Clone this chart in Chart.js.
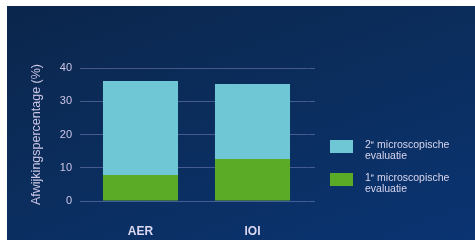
<!DOCTYPE html>
<html>
<head>
<meta charset="utf-8">
<script src="https://cdn.jsdelivr.net/npm/chart.js@4.4.1/dist/chart.umd.min.js"></script>
<style>
  html, body { margin: 0; padding: 0; background: #ffffff; }
  #bg {
    position: absolute; left: 7px; top: 6px; width: 468px; height: 234px;
    background: linear-gradient(160deg, #0b264c 0%, #0b2d5c 45%, #0a3472 100%);
  }
  #chart { position: absolute; left: 0; top: 0; }
  .legend {
    position: absolute; left: 330px;
    font-family: "Liberation Sans", Arial, sans-serif;
    font-size: 10.5px; line-height: 11px; color: #d9d6ee;
  }
  .legend .box { position: absolute; left: 0; top: 0; width: 23px; height: 13px; }
  .legend .txt { position: absolute; left: 35px; top: -1px; white-space: nowrap; }
  .legend sup { font-size: 6px; vertical-align: 4px; line-height: 0; }
</style>
</head>
<body>
<div id="bg"></div>
<canvas id="chart" width="475" height="240"></canvas>
<div class="legend" style="top:140px"><div class="box" style="background:#6fc6d4"></div><div class="txt">2<sup>e</sup> microscopische<br>evaluatie</div></div>
<div class="legend" style="top:173px"><div class="box" style="background:#5cab27"></div><div class="txt">1<sup>e</sup> microscopische<br>evaluatie</div></div>
<script>
// data
const categories = ["AER", "IOI"];
const firstEval = [7.8, 12.6];    // 1e microscopische evaluatie (green)
const secondEval = [28.3, 22.6];  // 2e microscopische evaluatie (light blue)
const yTicks = [0, 10, 20, 30, 40];

const gridColor = "rgba(120, 128, 190, 0.55)";
const labelColor = "#cdc6e6";

const ctx = document.getElementById("chart").getContext("2d");
new Chart(ctx, {
  type: "bar",
  data: {
    labels: categories,
    datasets: [
      {
        label: "1e microscopische evaluatie",
        data: firstEval,
        backgroundColor: "#5cab27",
        categoryPercentage: 1,
        barPercentage: 0.67,
      },
      {
        label: "2e microscopische evaluatie",
        data: secondEval,
        backgroundColor: "#6fc6d4",
        categoryPercentage: 1,
        barPercentage: 0.67,
      },
    ],
  },
  options: {
    responsive: false,
    animation: false,
    layout: { padding: { left: 0, right: 160, top: 68, bottom: 0 } },
    plugins: {
      legend: { display: false },
      tooltip: { enabled: false },
    },
    scales: {
      x: {
        stacked: true,
        grid: { display: false, drawTicks: false },
        border: { display: false },
        ticks: {
          color: "#dcd8f2",
          padding: 23,
          font: { family: "'Liberation Sans', Arial, sans-serif", size: 12, weight: "bold" },
        },
        afterFit: (scale) => { scale.height = 39; },
      },
      y: {
        stacked: true,
        min: 0,
        max: 40,
        afterBuildTicks: (scale) => { scale.ticks = yTicks.map(v => ({ value: v })); },
        grid: { color: gridColor, lineWidth: 1, drawTicks: true, tickLength: 4.5, tickColor: gridColor },
        border: { display: false },
        ticks: {
          color: labelColor,
          padding: 8,
          font: { family: "'Liberation Sans', Arial, sans-serif", size: 11 },
        },
        title: {
          display: true,
          text: "Afwijkingspercentage (%)",
          color: labelColor,
          padding: { top: 29, bottom: 0 },
          font: { family: "'Liberation Sans', Arial, sans-serif", size: 12.5 },
        },
        afterFit: (scale) => { scale.width = 84.5; },
      },
      y2: {
        position: "right",
        min: 0,
        max: 40,
        afterBuildTicks: (scale) => { scale.ticks = yTicks.map(v => ({ value: v })); },
        grid: { drawOnChartArea: false, drawTicks: true, tickLength: 6.5, color: gridColor },
        border: { display: false },
        ticks: { display: false },
        afterFit: (scale) => { scale.width = 6.5; },
      },
    },
  },
});
</script>
</body>
</html>
